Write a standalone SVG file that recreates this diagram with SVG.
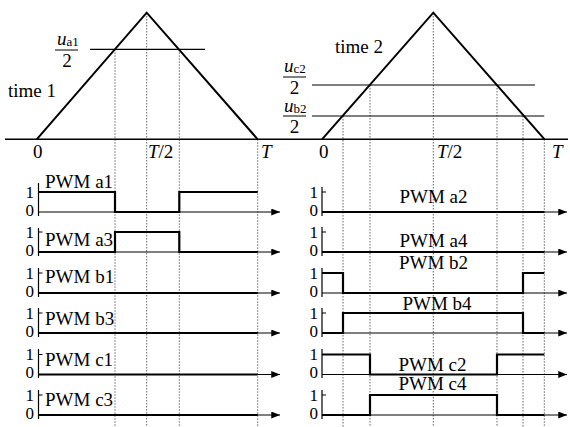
<svg xmlns="http://www.w3.org/2000/svg" width="570" height="427" viewBox="0 0 570 427" font-family="'Liberation Serif', 'DejaVu Serif', serif">
<defs>
<style>
text, tspan {font-family:'Liberation Serif','DejaVu Serif',serif;fill:#000;}
.lb{font-size:19px;}
.num{font-size:17px;}
.it{font-style:italic;}
.sub{font-size:13px;}
.tri{fill:none;stroke:#000;stroke-width:2;stroke-linejoin:miter;}
.ref{stroke:#000;stroke-width:1.2;}
.base{stroke:#000;stroke-width:1.6;}
.dot{stroke:#666;stroke-width:1;stroke-dasharray:1.5 1.5;}
.ax{fill:none;stroke:#000;stroke-width:1.2;}
.arr{stroke:#000;stroke-width:1.2;marker-end:url(#ah);}
.wv{fill:none;stroke:#000;stroke-width:2.2;stroke-linejoin:miter;}
</style>
<marker id="ah" viewBox="0 0 10 8" refX="10" refY="4" markerWidth="9" markerHeight="7" markerUnits="userSpaceOnUse" orient="auto">
<path d="M0,0 L10,4 L0,8 Z" fill="#000"/>
</marker>
</defs>
<rect width="570" height="427" fill="#fff"/>

<g id="guides">
<line class="dot" x1="115" y1="49.3" x2="115" y2="427"/>
<line class="dot" x1="146.7" y1="13" x2="146.7" y2="427"/>
<line class="dot" x1="179.3" y1="49.3" x2="179.3" y2="427"/>
<line class="dot" x1="257.7" y1="139.3" x2="257.7" y2="427"/>
<line class="dot" x1="343" y1="116" x2="343" y2="427"/>
<line class="dot" x1="370" y1="85" x2="370" y2="427"/>
<line class="dot" x1="433.3" y1="13" x2="433.3" y2="427"/>
<line class="dot" x1="497" y1="85" x2="497" y2="427"/>
<line class="dot" x1="523" y1="116" x2="523" y2="427"/>
<line class="dot" x1="544.3" y1="139.3" x2="544.3" y2="427"/>
</g>

<g id="carrier1">
<line class="base" x1="5" y1="139.3" x2="568" y2="139.3"/>
<polyline class="tri" points="36.7,139.3 146.7,12.7 257.7,139.3"/>
<line class="ref" x1="90" y1="49.3" x2="205" y2="49.3"/>
<text class="lb" x="57" y="45"><tspan class="it">u</tspan><tspan class="sub" dy="1">a1</tspan></text>
<line stroke="#000" stroke-width="1" x1="55" y1="50" x2="78" y2="50"/>
<text class="lb" x="67" y="67" text-anchor="middle">2</text>
<text class="lb" x="8" y="97">time 1</text>
<text class="lb" x="33" y="158">0</text>
<text class="lb" x="148" y="158"><tspan class="it">T</tspan>/2</text>
<text class="lb it" x="261" y="158">T</text>
</g>

<g id="carrier2">
<polyline class="tri" points="322,139.3 433.3,12.7 544.6,139.3"/>
<line class="ref" x1="312" y1="85" x2="535" y2="85"/>
<line class="ref" x1="312" y1="116" x2="544.3" y2="116"/>
<text class="lb" x="284" y="72"><tspan class="it">u</tspan><tspan class="sub" dy="1">c2</tspan></text>
<line stroke="#000" stroke-width="1" x1="283" y1="77" x2="306" y2="77"/>
<text class="lb" x="294.5" y="94" text-anchor="middle">2</text>
<text class="lb" x="284" y="112"><tspan class="it">u</tspan><tspan class="sub" dy="1">b2</tspan></text>
<line stroke="#000" stroke-width="1" x1="283" y1="116" x2="306" y2="116"/>
<text class="lb" x="294.5" y="133" text-anchor="middle">2</text>
<text class="lb" x="335" y="53">time 2</text>
<text class="lb" x="319" y="158">0</text>
<text class="lb" x="437" y="158"><tspan class="it">T</tspan>/2</text>
<text class="lb it" x="552" y="158">T</text>
</g>

<g id="pwm-a1">
<text class="num" x="34" y="198" text-anchor="end">1</text>
<text class="num" x="34" y="216" text-anchor="end">0</text>
<line class="ax" x1="38.5" y1="183" x2="38.5" y2="216"/>
<line class="arr" x1="38.5" y1="212" x2="280" y2="212"/>
<polyline class="wv" points="38.5,192 115,192 115,212 179.3,212 179.3,192 257.7,192"/>
<text class="lb" x="45" y="188">PWM a1</text>
</g>
<g id="pwm-a3">
<text class="num" x="34" y="238" text-anchor="end">1</text>
<text class="num" x="34" y="256" text-anchor="end">0</text>
<polyline class="ax" points="42.5,232 38.5,232 38.5,228 38.5,256"/>
<line class="arr" x1="38.5" y1="252" x2="280" y2="252"/>
<polyline class="wv" points="38.5,252 115,252 115,232 179.3,232 179.3,252 257.7,252"/>
<text class="lb" x="45" y="246">PWM a3</text>
</g>
<g id="pwm-b1">
<text class="num" x="34" y="279" text-anchor="end">1</text>
<text class="num" x="34" y="297" text-anchor="end">0</text>
<polyline class="ax" points="42.5,273 38.5,273 38.5,268 38.5,297"/>
<line class="arr" x1="38.5" y1="293" x2="280" y2="293"/>
<line class="wv" x1="38.5" y1="293" x2="257.7" y2="293"/>
<text class="lb" x="45" y="283">PWM b1</text>
</g>
<g id="pwm-b3">
<text class="num" x="34" y="319" text-anchor="end">1</text>
<text class="num" x="34" y="337" text-anchor="end">0</text>
<polyline class="ax" points="42.5,313 38.5,313 38.5,308 38.5,337"/>
<line class="arr" x1="38.5" y1="333" x2="280" y2="333"/>
<line class="wv" x1="38.5" y1="333" x2="257.7" y2="333"/>
<text class="lb" x="45" y="325">PWM b3</text>
</g>
<g id="pwm-c1">
<text class="num" x="34" y="360" text-anchor="end">1</text>
<text class="num" x="34" y="378" text-anchor="end">0</text>
<polyline class="ax" points="42.5,354.5 38.5,354.5 38.5,349 38.5,378"/>
<line class="arr" x1="38.5" y1="374.5" x2="280" y2="374.5"/>
<line class="wv" x1="38.5" y1="374.5" x2="257.7" y2="374.5"/>
<text class="lb" x="45" y="366">PWM c1</text>
</g>
<g id="pwm-c3">
<text class="num" x="34" y="401" text-anchor="end">1</text>
<text class="num" x="34" y="419" text-anchor="end">0</text>
<polyline class="ax" points="42.5,395 38.5,395 38.5,390 38.5,419"/>
<line class="arr" x1="38.5" y1="415" x2="280" y2="415"/>
<line class="wv" x1="38.5" y1="415" x2="257.7" y2="415"/>
<text class="lb" x="45" y="406">PWM c3</text>
</g>

<g id="pwm-a2">
<text class="num" x="318" y="198" text-anchor="end">1</text>
<text class="num" x="318" y="216" text-anchor="end">0</text>
<polyline class="ax" points="326,192 322,192 322,187 322,216"/>
<line class="arr" x1="322" y1="212" x2="567" y2="212"/>
<line class="wv" x1="322" y1="212" x2="544.3" y2="212"/>
<text class="lb" x="433.5" y="203" text-anchor="middle">PWM a2</text>
</g>
<g id="pwm-a4">
<text class="num" x="318" y="238" text-anchor="end">1</text>
<text class="num" x="318" y="256" text-anchor="end">0</text>
<polyline class="ax" points="326,232 322,232 322,227 322,256"/>
<line class="arr" x1="322" y1="252" x2="567" y2="252"/>
<line class="wv" x1="322" y1="252" x2="544.3" y2="252"/>
<text class="lb" x="433.5" y="247" text-anchor="middle">PWM a4</text>
</g>
<g id="pwm-b2">
<text class="num" x="318" y="279" text-anchor="end">1</text>
<text class="num" x="318" y="297" text-anchor="end">0</text>
<line class="ax" x1="322" y1="268" x2="322" y2="297"/>
<line class="arr" x1="322" y1="293" x2="567" y2="293"/>
<polyline class="wv" points="322,273 343,273 343,293 523,293 523,273 544.3,273"/>
<text class="lb" x="433.5" y="269" text-anchor="middle">PWM b2</text>
</g>
<g id="pwm-b4">
<text class="num" x="318" y="319" text-anchor="end">1</text>
<text class="num" x="318" y="337" text-anchor="end">0</text>
<polyline class="ax" points="326,313 322,313 322,308 322,337"/>
<line class="arr" x1="322" y1="333" x2="567" y2="333"/>
<polyline class="wv" points="322,333 343,333 343,313 523,313 523,333 544.3,333"/>
<text class="lb" x="437" y="310" text-anchor="middle">PWM b4</text>
</g>
<g id="pwm-c2">
<text class="num" x="318" y="360" text-anchor="end">1</text>
<text class="num" x="318" y="378" text-anchor="end">0</text>
<line class="ax" x1="322" y1="349" x2="322" y2="378"/>
<line class="arr" x1="322" y1="374.5" x2="567" y2="374.5"/>
<polyline class="wv" points="322,354.5 370,354.5 370,374.5 497,374.5 497,354.5 544.3,354.5"/>
<text class="lb" x="432.5" y="371" text-anchor="middle">PWM c2</text>
</g>
<g id="pwm-c4">
<text class="num" x="318" y="401" text-anchor="end">1</text>
<text class="num" x="318" y="419" text-anchor="end">0</text>
<polyline class="ax" points="326,395 322,395 322,390 322,419"/>
<line class="arr" x1="322" y1="415" x2="567" y2="415"/>
<polyline class="wv" points="322,415 370,415 370,395 497,395 497,415 544.3,415"/>
<text class="lb" x="432.5" y="390" text-anchor="middle">PWM c4</text>
</g>
</svg>
